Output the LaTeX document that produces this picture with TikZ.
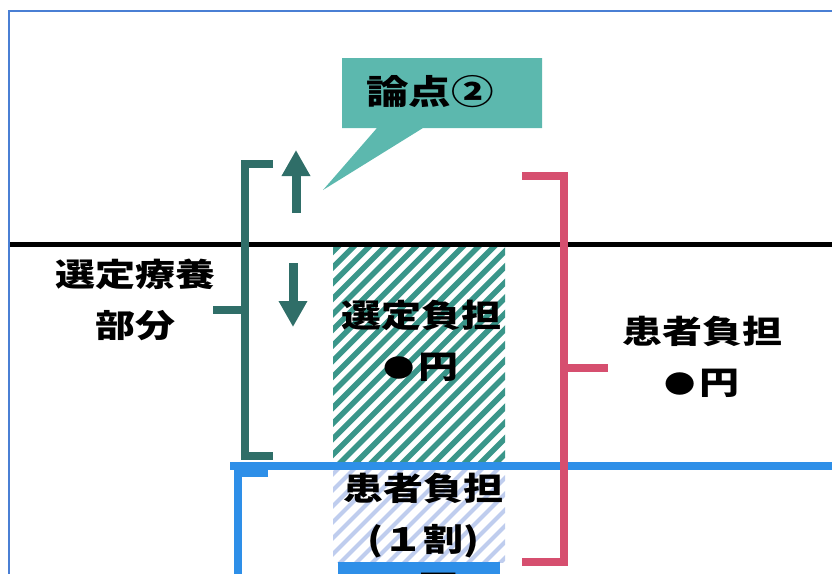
\documentclass[tikz,border=0pt]{standalone}
\usepackage{fontspec}
\newfontfamily\jp{Noto Sans CJK JP}[FakeStretch=1.25]
\usetikzlibrary{arrows.meta}
\definecolor{frameblue}{HTML}{4A7FD4}
\definecolor{tealdark}{HTML}{2F6E68}
\definecolor{tealcall}{HTML}{5CB8AE}
\definecolor{tealhatch}{HTML}{3A968A}
\definecolor{pinkb}{HTML}{D64F6F}
\definecolor{blueb}{HTML}{2E8FE8}
\definecolor{lavhatch}{HTML}{BFCDEE}
\newcommand{\smalldot}{\raisebox{1.5pt}{\fontsize{25}{25}\selectfont ●}\hspace{4pt}}
\tikzset{
  lbl/.style={font=\jp\bfseries\fontsize{32}{51}\selectfont, align=center, inner sep=0pt, text=black},
  tealbr/.style={draw=tealdark, line width=8pt},
  pinkbr/.style={draw=pinkb, line width=8pt},
  bluebr/.style={draw=blueb, line width=8pt},
  fatarrow/.style={draw=tealdark, fill=tealdark, line width=9pt, -{Triangle[width=27pt,length=26pt]}},
}
\begin{document}
\begin{tikzpicture}[x=1pt,y=-1pt]
\useasboundingbox (0,0) rectangle (832,573);
\clip (0,0) rectangle (832,573);
% frame
\draw[frameblue, line width=2pt] (9,11) rectangle (900,650);
% hatched box (selected burden)
\begin{scope}
  \clip (333,247) rectangle (505,463);
  \foreach \i in {-16,...,12}
    \draw[tealhatch, line width=5.5pt] ({333+\i*15.6},470) -- ++(240,-240);
\end{scope}
% hatched box (patient burden 10%)
\begin{scope}
  \clip (333,470) rectangle (505,562);
  \foreach \i in {-9,...,12}
    \draw[lavhatch, line width=4pt] ({333+\i*16},570) -- ++(120,-120);
\end{scope}
\fill[blueb] (338,562) rectangle (500,600);
% horizontal lines
\coordinate (bl1) at (10,244);
\coordinate (bl2) at (832,244);
\draw[black, line width=5pt] (bl1) -- (bl2);
\coordinate (bu1) at (230,466);
\coordinate (bu2) at (832,466);
\draw[blueb, line width=8pt] (bu1) -- (bu2);
% blue bracket
\coordinate (bb1) at (268,473);
\coordinate (bb2) at (238,473);
\coordinate (bb3) at (238,600);
\draw[bluebr] (bb1) -- (bb2) -- (bb3);
% teal bracket
\coordinate (tb1) at (273,164);
\coordinate (tb2) at (245,164);
\coordinate (tb3) at (245,456);
\coordinate (tb4) at (273,456);
\coordinate (tm1) at (245,310);
\coordinate (tm2) at (213,310);
\draw[tealbr] (tb1) -- (tb2) -- (tb3) -- (tb4);
\draw[tealbr] (tm1) -- (tm2);
% pink bracket
\coordinate (pb1) at (522,176);
\coordinate (pb2) at (564,176);
\coordinate (pb3) at (564,562);
\coordinate (pb4) at (522,562);
\coordinate (pm1) at (564,368);
\coordinate (pm2) at (608,368);
\draw[pinkbr] (pb1) -- (pb2) -- (pb3) -- (pb4);
\draw[pinkbr] (pm1) -- (pm2);
% arrows
\coordinate (ua1) at (296,213);
\coordinate (ua2) at (296,150);
\draw[fatarrow] (ua1) -- (ua2);
\coordinate (da1) at (293,263);
\coordinate (da2) at (293,327);
\draw[fatarrow] (da1) -- (da2);
% callout
\fill[tealcall] (342,58) -- (542,58) -- (542,128) -- (423,128) -- (323,190) -- (377,128) -- (342,128) -- cycle;
\node[lbl, font=\jp\bfseries\fontsize{34}{40}\selectfont] (ronten) at (430,92) {論点②};
% labels
\node[lbl] (senteibubun) at (135,300) {選定療養\\部分};
\node[lbl] (senteifutan) at (421,341) {選定負担\\\smalldot 円};
\node[lbl] (kanjafutan) at (702,357) {患者負担\\\smalldot 円};
\node[lbl] (kanja1) at (423,516) {患者負担\\(１割)};
\node[lbl, anchor=north] (kanjaen) at (421,573) {\smalldot 円};
\end{tikzpicture}
\end{document}
